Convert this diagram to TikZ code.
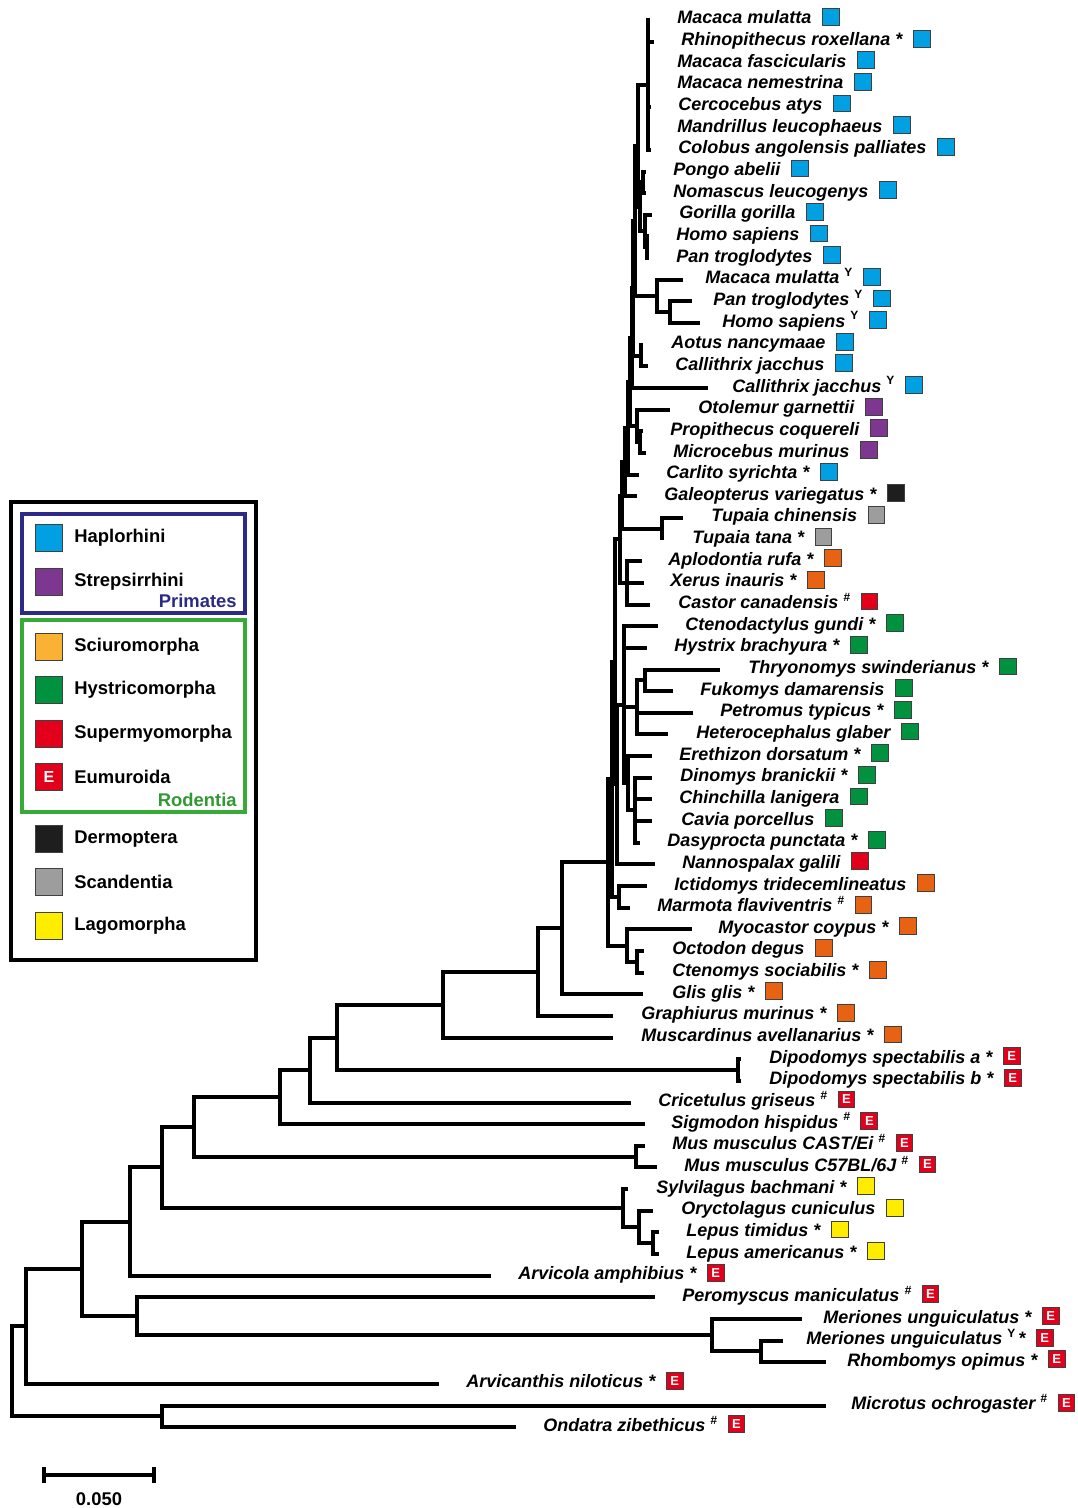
\documentclass[tikz,border=0pt]{standalone}
\usepackage{fontspec}
\setmainfont{Liberation Sans}
\usetikzlibrary{positioning}

\definecolor{hapblue}{RGB}{0,160,227}
\definecolor{strpurple}{RGB}{125,55,145}
\definecolor{sciorange}{RGB}{232,98,20}
\definecolor{scilight}{RGB}{250,178,52}
\definecolor{hysgreen}{RGB}{0,146,63}
\definecolor{supred}{RGB}{226,0,26}
\definecolor{derblack}{RGB}{30,30,30}
\definecolor{scagray}{RGB}{157,157,157}
\definecolor{lagyellow}{RGB}{255,237,0}
\definecolor{primnavy}{RGB}{45,42,135}
\definecolor{rodgreen}{RGB}{55,170,55}

\newcommand{\ys}{\raisebox{0.4em}{\fontsize{6}{6}\selectfont\upshape Y}}
\newcommand{\hsh}{\raisebox{0.4em}{\fontsize{6}{6}\selectfont\#}}

\begin{document}
\begin{tikzpicture}[x=0.5pt, y=-0.5pt,
  declare function={ry(\k)=21.65*\k-1.65;},
  every edge/.style={draw, line width=2pt, to path={|- (\tikztotarget)}},
  leaf/.style={anchor=base west, inner sep=0pt, font=\fontsize{9}{11}\selectfont\bfseries\itshape},
  sqbox/.style={draw=black!75, line width=0.5pt, minimum size=8.4pt, inner sep=0pt, anchor=west, fill=#1},
  hap/.style={sqbox=hapblue}, str/.style={sqbox=strpurple}, sci/.style={sqbox=sciorange},
  hys/.style={sqbox=hysgreen}, sup/.style={sqbox=supred}, der/.style={sqbox=derblack},
  sca/.style={sqbox=scagray}, lag/.style={sqbox=lagyellow},
  eum/.style={sqbox=supred, label={[text=white, inner sep=0pt, font=\fontsize{6.5}{7}\selectfont\bfseries]center:E}},
  keybox/.style={draw=black!75, line width=0.5pt, minimum size=13.5pt, inner sep=0pt, fill=#1},
  keytxt/.style={inner sep=0pt, font=\fontsize{9.2}{11}\selectfont\bfseries}]

\useasboundingbox (0,0) rectangle (1077,1508);

% leaves
\foreach \i/\tx/\lx/\nm/\c in {
  1/650/677/{Macaca mulatta}/hap,
  2/654/681/{Rhinopithecus roxellana *}/hap,
  3/650/677/{Macaca fascicularis}/hap,
  4/650/677/{Macaca nemestrina}/hap,
  5/651/678/{Cercocebus atys}/hap,
  6/650/677/{Mandrillus leucophaeus}/hap,
  7/651/678/{Colobus angolensis palliates}/hap,
  8/646/673/{Pongo abelii}/hap,
  9/646/673/{Nomascus leucogenys}/hap,
  10/652/679/{Gorilla gorilla}/hap,
  11/649/676/{Homo sapiens}/hap,
  12/649/676/{Pan troglodytes}/hap,
  13/683/705/{Macaca mulatta \ys}/hap,
  14/692/713/{Pan troglodytes \ys}/hap,
  15/700/722/{Homo sapiens \ys}/hap,
  16/643/671/{Aotus nancymaae}/hap,
  17/648/675/{Callithrix jacchus}/hap,
  18/708/732/{Callithrix jacchus \ys}/hap,
  19/670/698/{Otolemur garnettii}/str,
  20/643/670/{Propithecus coquereli}/str,
  21/646/673/{Microcebus murinus}/str,
  22/639/666/{Carlito syrichta *}/hap,
  23/637/664/{Galeopterus variegatus *}/der,
  24/683/711/{Tupaia chinensis}/sca,
  25/662/692/{Tupaia tana *}/sca,
  26/642/668/{Aplodontia rufa *}/sci,
  27/644/670/{Xerus inauris *}/sci,
  28/650/678/{Castor canadensis \hsh}/sup,
  29/658/685/{Ctenodactylus gundi *}/hys,
  30/647/674/{Hystrix brachyura *}/hys,
  31/720/748/{Thryonomys swinderianus *}/hys,
  32/673/700/{Fukomys damarensis}/hys,
  33/693/720/{Petromus typicus *}/hys,
  34/668/696/{Heterocephalus glaber}/hys,
  35/652/679/{Erethizon dorsatum *}/hys,
  36/652/680/{Dinomys branickii *}/hys,
  37/652/679/{Chinchilla lanigera}/hys,
  38/652/681/{Cavia porcellus}/hys,
  39/640/667/{Dasyprocta punctata *}/hys,
  40/655/682/{Nannospalax galili}/sup,
  41/647/674/{Ictidomys tridecemlineatus}/sci,
  42/630/657/{Marmota flaviventris \hsh}/sci,
  43/692/718/{Myocastor coypus *}/sci,
  44/644/672/{Octodon degus}/sci,
  45/644/672/{Ctenomys sociabilis *}/sci,
  46/643/672/{Glis glis *}/sci,
  47/613/641/{Graphiurus murinus *}/sci,
  48/613/641/{Muscardinus avellanarius *}/sci,
  49/741/769/{Dipodomys spectabilis a *}/eum,
  50/741/769/{Dipodomys spectabilis b *}/eum,
  51/631/658/{Cricetulus griseus \hsh}/eum,
  52/645/671/{Sigmodon hispidus \hsh}/eum,
  53/645/672/{Mus musculus CAST/Ei \hsh}/eum,
  54/657/684/{Mus musculus C57BL/6J \hsh}/eum,
  55/628/656/{Sylvilagus bachmani *}/lag,
  56/653/681/{Oryctolagus cuniculus}/lag,
  57/659/686/{Lepus timidus *}/lag,
  58/659/686/{Lepus americanus *}/lag,
  59/491/518/{Arvicola amphibius *}/eum,
  60/655/682/{Peromyscus maniculatus \hsh}/eum,
  61/802/823/{Meriones unguiculatus *}/eum,
  62/783/806/{Meriones unguiculatus \ys\,*}/eum,
  63/826/847/{Rhombomys opimus *}/eum,
  64/439/466/{Arvicanthis niloticus *}/eum,
  65/826/851/{Microtus ochrogaster \hsh}/eum,
  66/516/543/{Ondatra zibethicus \hsh}/eum}{
  \coordinate (\i) at (\tx,{ry(\i)});
  \node[leaf] (l\i) at (\lx,{ry(\i)+4}) {\nm};
  \node[\c] (s\i) at ([xshift=5pt,yshift=3.5pt]l\i.base east) {};
}

% inner nodes
\coordinate (ow)  at (648,{ry(4)});
\coordinate (ap2) at (643,{ry(8.5)});
\coordinate (hp)  at (647,{ry(11.5)});
\coordinate (ap3) at (645,{ry(10.75)});
\coordinate (ap)  at (640,{ry(9.625)});
\coordinate (ca)  at (638,{ry(6.81)});
\coordinate (yc2) at (670,{ry(14.5)});
\coordinate (yc)  at (657,{ry(13.75)});
\coordinate (an1) at (635,{ry(10.28)});
\coordinate (nw)  at (641,{ry(16.5)});
\coordinate (an2) at (633,{ry(13.39)});
\coordinate (an3) at (632,{ry(15.7)});
\coordinate (st2) at (640,{ry(20.5)});
\coordinate (st)  at (637,{ry(19.75)});
\coordinate (pr)  at (630,{ry(17.72)});
\coordinate (pr2) at (628,{ry(19.86)});
\coordinate (pr3) at (625,{ry(21.43)});
\coordinate (tp)  at (662,{ry(24.5)});
\coordinate (eu)  at (622,{ry(22.97)});
\coordinate (sq)  at (627,{ry(27)});
\coordinate (gl)  at (620,{ry(24.98)});
\coordinate (tf)  at (645,{ry(31.5)});
\coordinate (hy2) at (637,{ry(32.75)});
\coordinate (cv)  at (635,{ry(37.5)});
\coordinate (ce)  at (628,{ry(36.25)});
\coordinate (hx)  at (624,{ry(32.63)});
\coordinate (rd2) at (617,{ry(36.31)});
\coordinate (big) at (615,{ry(30.65)});
\coordinate (sc)  at (619,{ry(41.5)});
\coordinate (p2)  at (612,{ry(36.07)});
\coordinate (oc2) at (637,{ry(44.5)});
\coordinate (oc)  at (627,{ry(43.75)});
\coordinate (p1)  at (608,{ry(39.91)});
\coordinate (gls) at (562,{ry(42.96)});
\coordinate (grp) at (538,{ry(44.98)});
\coordinate (mus) at (443,{ry(46.49)});
\coordinate (dip) at (738,{ry(49.5)});
\coordinate (n1)  at (337,{ry(48)});
\coordinate (n2)  at (310,{ry(49.5)});
\coordinate (n3)  at (280,{ry(50.75)});
\coordinate (mm)  at (636,{ry(53.5)});
\coordinate (n4)  at (194,{ry(52.13)});
\coordinate (lp2) at (653,{ry(57.5)});
\coordinate (lp1) at (639,{ry(56.75)});
\coordinate (lp)  at (623,{ry(55.88)});
\coordinate (n5)  at (162,{ry(54)});
\coordinate (n6)  at (130,{ry(56.5)});
\coordinate (mr2) at (761,{ry(62.5)});
\coordinate (mr)  at (712,{ry(61.75)});
\coordinate (n7)  at (137,{ry(60.88)});
\coordinate (n8)  at (82,{ry(58.69)});
\coordinate (n9)  at (26,{ry(61.34)});
\coordinate (ms)  at (162,{ry(65.5)});
\coordinate (rt)  at (12,{ry(63.42)});

% branches
\path (ow) edge (1) edge (2) edge (3) edge (4) edge (5) edge (6) edge (7);
\path (ap2) edge (8) edge (9);
\path (hp) edge (11) edge (12);
\path (ap3) edge (10) edge (hp);
\path (ap) edge (ap2) edge (ap3);
\path (ca) edge (ow) edge (ap);
\path (yc2) edge (14) edge (15);
\path (yc) edge (13) edge (yc2);
\path (an1) edge (ca) edge (yc);
\path (nw) edge (16) edge (17);
\path (an2) edge (an1) edge (nw);
\path (an3) edge (an2) edge (18);
\path (st2) edge (20) edge (21);
\path (st) edge (19) edge (st2);
\path (pr) edge (an3) edge (st);
\path (pr2) edge (pr) edge (22);
\path (pr3) edge (pr2) edge (23);
\path (tp) edge (24) edge (25);
\path (eu) edge (pr3) edge (tp);
\path (sq) edge (26) edge (27) edge (28);
\path (gl) edge (eu) edge (sq);
\path (tf) edge (31) edge (32);
\path (hy2) edge (tf) edge (33) edge (34);
\path (cv) edge (36) edge (37) edge (38) edge (39);
\path (ce) edge (35) edge (cv);
\path (hx) edge (29) edge (30) edge (hy2) edge (ce);
\path (rd2) edge (hx) edge (40);
\path (big) edge (gl) edge (rd2);
\path (sc) edge (41) edge (42);
\path (p2) edge (big) edge (sc);
\path (oc2) edge (44) edge (45);
\path (oc) edge (43) edge (oc2);
\path (p1) edge (p2) edge (oc);
\path (gls) edge (p1) edge (46);
\path (grp) edge (gls) edge (47);
\path (mus) edge (grp) edge (48);
\path (dip) edge (49) edge (50);
\path (n1) edge (mus) edge (dip);
\path (n2) edge (n1) edge (51);
\path (n3) edge (n2) edge (52);
\path (mm) edge (53) edge (54);
\path (n4) edge (n3) edge (mm);
\path (lp2) edge (57) edge (58);
\path (lp1) edge (56) edge (lp2);
\path (lp) edge (55) edge (lp1);
\path (n5) edge (n4) edge (lp);
\path (n6) edge (n5) edge (59);
\path (mr2) edge (62) edge (63);
\path (mr) edge (61) edge (mr2);
\path (n7) edge (60) edge (mr);
\path (n8) edge (n6) edge (n7);
\path (n9) edge (n8) edge (64);
\path (ms) edge (65) edge (66);
\path (rt) edge (n9) edge (ms);

% legend
\draw[line width=2pt] (11,502) rectangle (256,960);
\draw[primnavy, line width=1.6pt] (22,514) rectangle (245,613);
\draw[rodgreen, line width=1.6pt] (22,620) rectangle (245,812);
\node[keybox=hapblue] (k1) at (49,538) {};
\node[keybox=strpurple] (k2) at (49,582) {};
\node[keybox=scilight] (k3) at (49,647) {};
\node[keybox=hysgreen] (k4) at (49,690) {};
\node[keybox=supred] (k5) at (49,734) {};
\node[keybox=supred, text=white, font=\fontsize{8}{8}\selectfont\bfseries] (k6) at (49,777) {E};
\node[keybox=derblack] (k7) at (49,839) {};
\node[keybox=scagray] (k8) at (49,882) {};
\node[keybox=lagyellow] (k9) at (49,926) {};
\node[keytxt, right=5.5pt of k1] (t1) {Haplorhini};
\node[keytxt, right=5.5pt of k2] (t2) {Strepsirrhini};
\node[keytxt, right=5.5pt of k3] (t3) {Sciuromorpha};
\node[keytxt, right=5.5pt of k4] (t4) {Hystricomorpha};
\node[keytxt, right=5.5pt of k5] (t5) {Supermyomorpha};
\node[keytxt, right=5.5pt of k6] (t6) {Eumuroida};
\node[keytxt, right=5.5pt of k7] (t7) {Dermoptera};
\node[keytxt, right=5.5pt of k8] (t8) {Scandentia};
\node[keytxt, right=5.5pt of k9] (t9) {Lagomorpha};
\node[keytxt, anchor=base east, text=primnavy] (prim) at (237,607) {Primates};
\node[keytxt, anchor=base east, text=rodgreen!90!black] (rod) at (237,806) {Rodentia};

% scale bar
\coordinate (sb1) at (44,1475);
\coordinate (sb2) at (154,1475);
\draw[line width=1.7pt] (sb1) -- (sb2);
\draw[line width=1.7pt] ([yshift=4pt]sb1) -- ([yshift=-4pt]sb1);
\draw[line width=1.7pt] ([yshift=4pt]sb2) -- ([yshift=-4pt]sb2);
\node[keytxt, anchor=base] (sbl) at (99,1505) {0.050};
\end{tikzpicture}
\end{document}
